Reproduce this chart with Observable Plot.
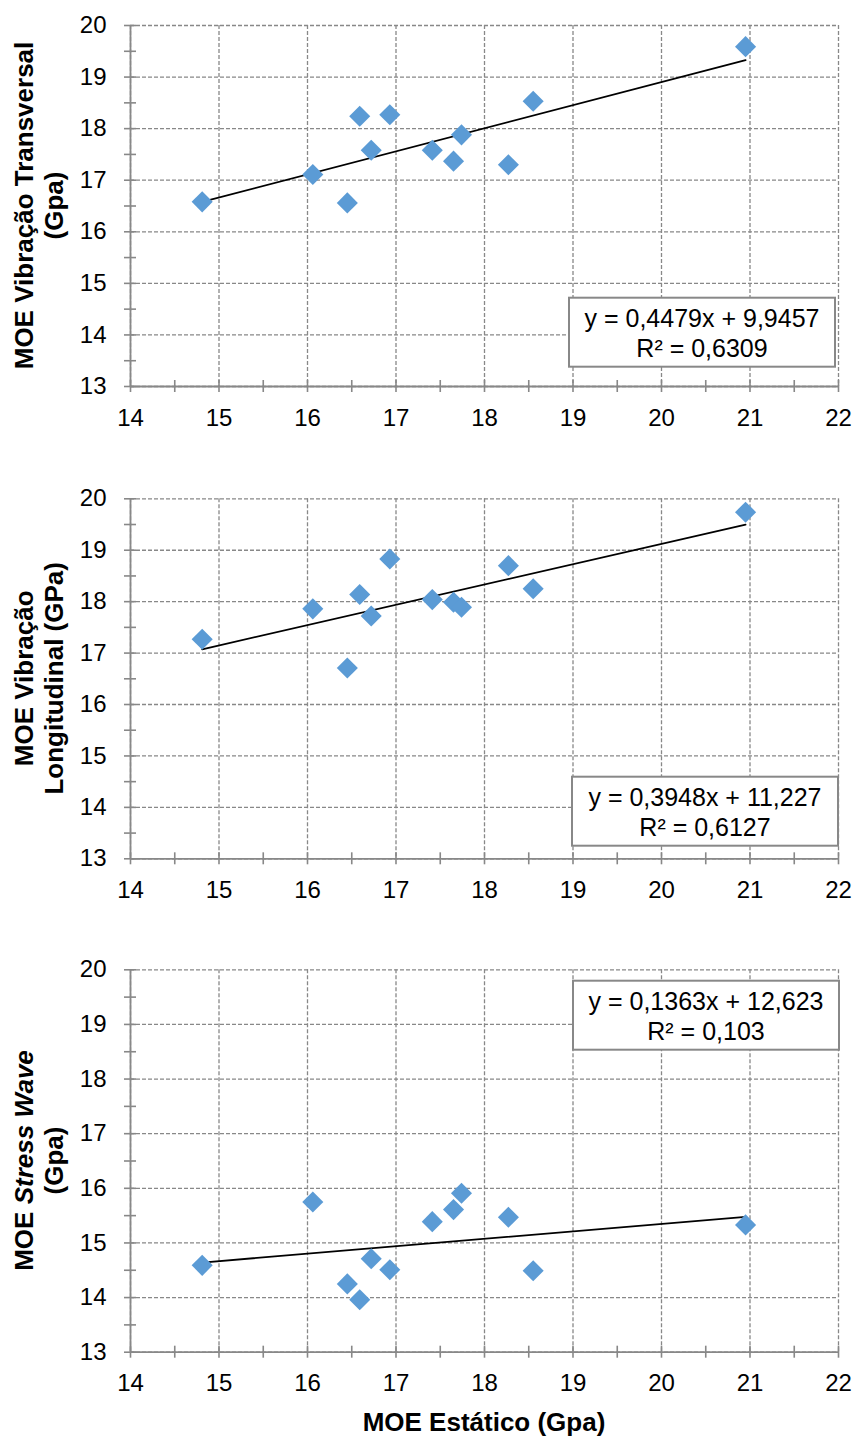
<!DOCTYPE html>
<html><head><meta charset="utf-8">
<script src="https://cdn.jsdelivr.net/npm/d3@7"></script>
<script src="https://cdn.jsdelivr.net/npm/@observablehq/plot@0.6"></script>
<style>
body{margin:0;background:#fff;}
#chart{width:856px;height:1437px;}
#chart svg{display:block;overflow:visible;}
</style></head><body><div id="chart"></div>
<script>
// ---- data ----
const moeEstatico     = [14.81, 16.06, 16.45, 16.59, 16.72, 16.93, 17.41, 17.65, 17.74, 18.27, 18.55, 20.95];
const moeTransversal  = [16.58, 17.11, 16.56, 18.24, 17.58, 18.27, 17.58, 17.37, 17.88, 17.30, 18.53, 19.59];
const moeLongitudinal = [17.27, 17.86, 16.71, 18.14, 17.72, 18.83, 18.04, 17.99, 17.89, 18.70, 18.25, 19.74];
const moeStressWave   = [14.59, 15.75, 14.25, 13.96, 14.71, 14.51, 15.39, 15.61, 15.91, 15.47, 14.49, 15.33];
const slopes     = [0.4479, 0.3948, 0.1363];
const intercepts = [9.9457, 11.227, 12.623];
const equations  = ["y = 0,4479x + 9,9457", "y = 0,3948x + 11,227", "y = 0,1363x + 12,623"];
const r2Labels   = ["R² = 0,6309", "R² = 0,6127", "R² = 0,103"];
const xTicks = [14, 15, 16, 17, 18, 19, 20, 21, 22];
const yTicks = [13, 14, 15, 16, 17, 18, 19, 20];
const xMinorTicks = [14, 14.5, 15, 15.5, 16, 16.5, 17, 17.5, 18, 18.5, 19, 19.5, 20, 20.5, 21, 21.5, 22];
const yMinorTicks = [13, 13.5, 14, 14.5, 15, 15.5, 16, 16.5, 17, 17.5, 18, 18.5, 19, 19.5, 20];
const yLabels = [
  [[{t: "MOE Vibração Transversal"}], [{t: "(Gpa)"}]],
  [[{t: "MOE Vibração"}], [{t: "Longitudinal (GPa)"}]],
  [[{t: "MOE "}, {t: "Stress Wave", italic: true}], [{t: "(Gpa)"}]]
];
const xTitle = "MOE Estático (Gpa)";
const seriesY = [moeTransversal, moeLongitudinal, moeStressWave];

// ---- layout ----
const W = 856;
const layout = [
  {height: 450, marginTop: 25,   marginBottom: 64,   box: [569, 297.7]},
  {height: 470, marginTop: 48.3, marginBottom: 61.7, box: [572, 326.7]},
  {height: 517, marginTop: 49.3, marginBottom: 85.3, box: [573, 60.7]}
];
const grey = "#888888";
const blue = "#5b9bd5";
const font = "'Liberation Sans', Arial, sans-serif";
const fmt = d => String(d);

const chart = document.getElementById("chart");

layout.forEach((L, k) => {
  const pts = moeEstatico.map((x, i) => ({x, y: seriesY[k][i]}));
  const x0 = d3.min(moeEstatico), x1 = d3.max(moeEstatico);
  const trend = [x0, x1].map(x => ({x, y: slopes[k] * x + intercepts[k]}));
  const plot = Plot.plot({
    width: W,
    height: L.height,
    marginLeft: 130,
    marginRight: 18,
    marginTop: L.marginTop,
    marginBottom: L.marginBottom,
    style: {fontFamily: font, fontSize: "24px", color: "#000", background: "#fff"},
    x: {domain: [14, 22]},
    y: {domain: [13, 20]},
    marks: [
      Plot.gridX(xTicks, {stroke: grey, strokeOpacity: 1, strokeWidth: 1.3, strokeDasharray: "4,2"}),
      Plot.gridY(yTicks, {stroke: grey, strokeOpacity: 1, strokeWidth: 1.3, strokeDasharray: "4,2"}),
      Plot.ruleX([14], {stroke: grey, strokeWidth: 1.8}),
      Plot.ruleY([13], {stroke: grey, strokeWidth: 1.8}),
      Plot.ruleX(xMinorTicks, {y1: 13, y2: 13, insetTop: -6, insetBottom: -6, stroke: grey, strokeWidth: 1.6}),
      Plot.ruleY(yMinorTicks, {x1: 14, x2: 14, insetLeft: -6, insetRight: -6, stroke: grey, strokeWidth: 1.6}),
      Plot.axisX(xTicks, {tickSize: 0, tickPadding: 22, label: null, fontSize: 24, tickFormat: fmt}),
      Plot.axisY(yTicks, {tickSize: 0, tickPadding: 24, label: null, fontSize: 24, tickFormat: fmt}),
      Plot.line(trend, {x: "x", y: "y", stroke: "#000", strokeWidth: 1.8}),
      Plot.dot(pts, {x: "x", y: "y", symbol: "diamond2", r: 9.5, fill: blue, stroke: "none"})
    ]
  });
  chart.appendChild(plot);
  const svg = d3.select(plot);
  const ys = plot.scale("y");
  const cy = (ys.apply(13) + ys.apply(20)) / 2;

  // y-axis title (two lines, rotated)
  const baselines = [33, 63];
  yLabels[k].forEach((parts, li) => {
    const t = svg.append("text")
      .attr("transform", `translate(${baselines[li]},${cy}) rotate(-90)`)
      .attr("text-anchor", "middle")
      .attr("font-family", font)
      .attr("font-size", 26)
      .attr("font-weight", "bold")
      .attr("fill", "#000");
    parts.forEach(p => {
      t.append("tspan").attr("font-style", p.italic ? "italic" : "normal").text(p.t);
    });
  });

  // equation box
  const [bx, by] = L.box, bw = 266, bh = 69;
  svg.append("rect").attr("x", bx).attr("y", by).attr("width", bw).attr("height", bh)
    .attr("fill", "#fff").attr("stroke", grey).attr("stroke-width", 2);
  [[equations[k], 21], [r2Labels[k], 50.5]].forEach(([s, dy]) => {
    svg.append("text").attr("x", bx + bw / 2).attr("y", by + dy).attr("dy", "0.35em")
      .attr("text-anchor", "middle").attr("font-family", font).attr("font-size", 25)
      .attr("fill", "#000").text(s);
  });

  if (k === 2) {
    const xs = plot.scale("x");
    svg.append("text").attr("x", (xs.apply(14) + xs.apply(22)) / 2).attr("y", 511)
      .attr("text-anchor", "middle").attr("font-family", font).attr("font-size", 26)
      .attr("font-weight", "bold").attr("fill", "#000").text(xTitle);
  }
});
</script></body></html>
